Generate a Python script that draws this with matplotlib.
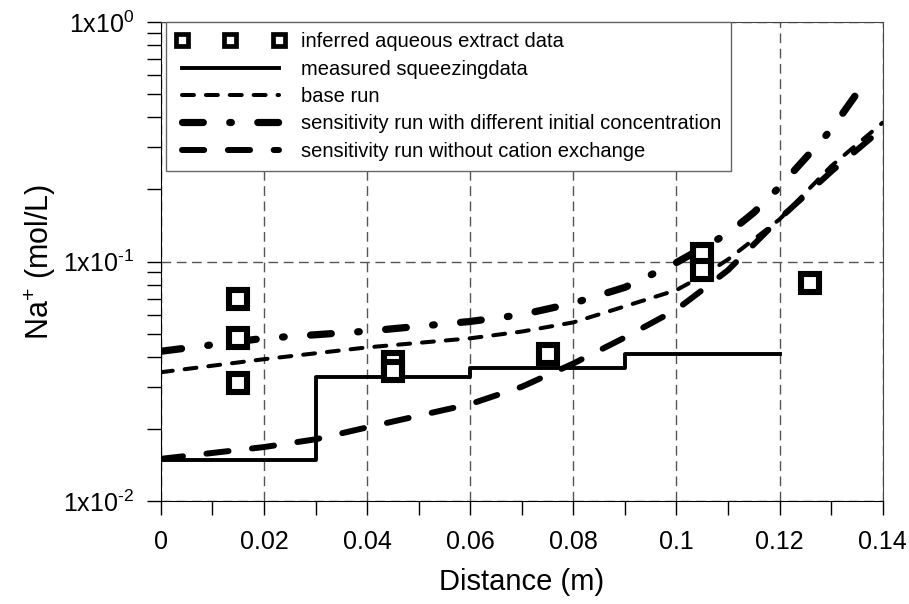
import matplotlib
matplotlib.use("Agg")
import matplotlib.pyplot as plt
from matplotlib.ticker import FixedLocator, LogLocator, NullFormatter

plt.rcParams['font.family'] = ['Liberation Sans', 'DejaVu Sans']
plt.rcParams['lines.scale_dashes'] = False

# inferred aqueous extract data
x_sq = [0.015, 0.015, 0.015, 0.045, 0.045, 0.075, 0.105, 0.105, 0.126]
y_sq = [0.070, 0.048, 0.031, 0.038, 0.035, 0.041, 0.107, 0.092, 0.081]

# measured squeezing data (steps)
x_meas = [0.0, 0.03, 0.06, 0.09, 0.12]
y_meas = [0.0149, 0.0329, 0.0358, 0.041, 0.041]

# base run
x_base = [0.0, 0.02, 0.04, 0.06, 0.07, 0.08, 0.09, 0.1, 0.105, 0.11, 0.12, 0.13, 0.14]
y_base = [0.0345, 0.0391, 0.0438, 0.0478, 0.0510, 0.0557, 0.0650, 0.076, 0.087, 0.102, 0.150, 0.250, 0.38]

# sensitivity run, different initial concentration
x_init = [0.0, 0.02, 0.04, 0.06, 0.07, 0.08, 0.09, 0.1, 0.11, 0.115, 0.12, 0.13, 0.136]
y_init = [0.0422, 0.0478, 0.0512, 0.0562, 0.0600, 0.0670, 0.078, 0.099, 0.131, 0.160, 0.205, 0.355, 0.54]

# sensitivity run without cation exchange
x_nocx = [0.0, 0.02, 0.03, 0.04, 0.06, 0.07, 0.08, 0.09, 0.1, 0.105, 0.11, 0.12, 0.13, 0.14]
y_nocx = [0.0150, 0.0168, 0.0181, 0.0203, 0.0254, 0.0300, 0.0375, 0.0482, 0.063, 0.076, 0.092, 0.151, 0.237, 0.36]

fig = plt.figure(figsize=(9.09, 6.04), dpi=100)
ax = fig.add_axes([0.177, 0.1705, 0.794, 0.793])

ax.plot(x_sq, y_sq, linestyle='none', marker='s', markersize=13, markeredgewidth=4.4,
        markerfacecolor='white', markeredgecolor='black',
        label='inferred aqueous extract data', zorder=5)
ax.plot(x_meas, y_meas, color='black', lw=2.8, drawstyle='steps-post',
        label='measured squeezingdata', zorder=4)
ax.plot(x_base, y_base, color='black', lw=2.9, dashes=(8.6, 8.6),
        dash_capstyle='round', label='base run', zorder=4)
ax.plot(x_init, y_init, color='black', lw=5.2, dashes=(15, 19, 1.2, 19),
        dash_capstyle='round',
        label='sensitivity run with different initial concentration', zorder=4)
ax.plot(x_nocx, y_nocx, color='black', lw=4.3, dashes=(16, 17),
        dash_capstyle='round', label='sensitivity run without cation exchange', zorder=4)

ax.set_yscale('log')
ax.set_xlim(0, 0.14)
ax.set_ylim(0.01, 1.0)

ax.xaxis.set_major_locator(FixedLocator([0, 0.02, 0.04, 0.06, 0.08, 0.1, 0.12, 0.14]))
ax.set_xticklabels(['0', '0.02', '0.04', '0.06', '0.08', '0.1', '0.12', '0.14'])
ax.xaxis.set_minor_locator(FixedLocator([0.01, 0.03, 0.05, 0.07, 0.09, 0.11, 0.13]))
ax.yaxis.set_major_locator(FixedLocator([0.01, 0.1, 1.0]))
ax.set_yticklabels(['$\\mathregular{1x10^{\u20102}}$', '$\\mathregular{1x10^{\u20101}}$',
                    '$\\mathregular{1x10^{0}}$'])
ax.yaxis.set_minor_locator(LogLocator(base=10, subs=range(2, 10)))
ax.yaxis.set_minor_formatter(NullFormatter())

ax.tick_params(which='both', direction='out', length=10, width=1, labelsize=18)
ax.tick_params(axis='x', pad=11)
ax.tick_params(axis='y', pad=9)

ax.grid(True, which='major', color='#555555', lw=1, dashes=(7, 4))
for s in ['top', 'right']:
    ax.spines[s].set_color('#444444')

ax.set_xlabel('Distance (m)', fontsize=21, labelpad=10)
ax.set_ylabel(r'$\mathregular{Na^{+}}$ (mol/L)', fontsize=22, labelpad=4)

leg = ax.legend(loc='upper left', bbox_to_anchor=(0.007, 1.0), borderaxespad=0,
                fontsize=14.5, numpoints=3, handlelength=5.4, handletextpad=0.8,
                labelspacing=0.42, fancybox=False, framealpha=1, edgecolor='#666666',
                borderpad=0.5)
leg.get_frame().set_linewidth(1)
for h in leg.legend_handles:
    h.set_markersize(8.5)
    h.set_markeredgewidth(3.4)

fig.savefig('out.png', dpi=100)
